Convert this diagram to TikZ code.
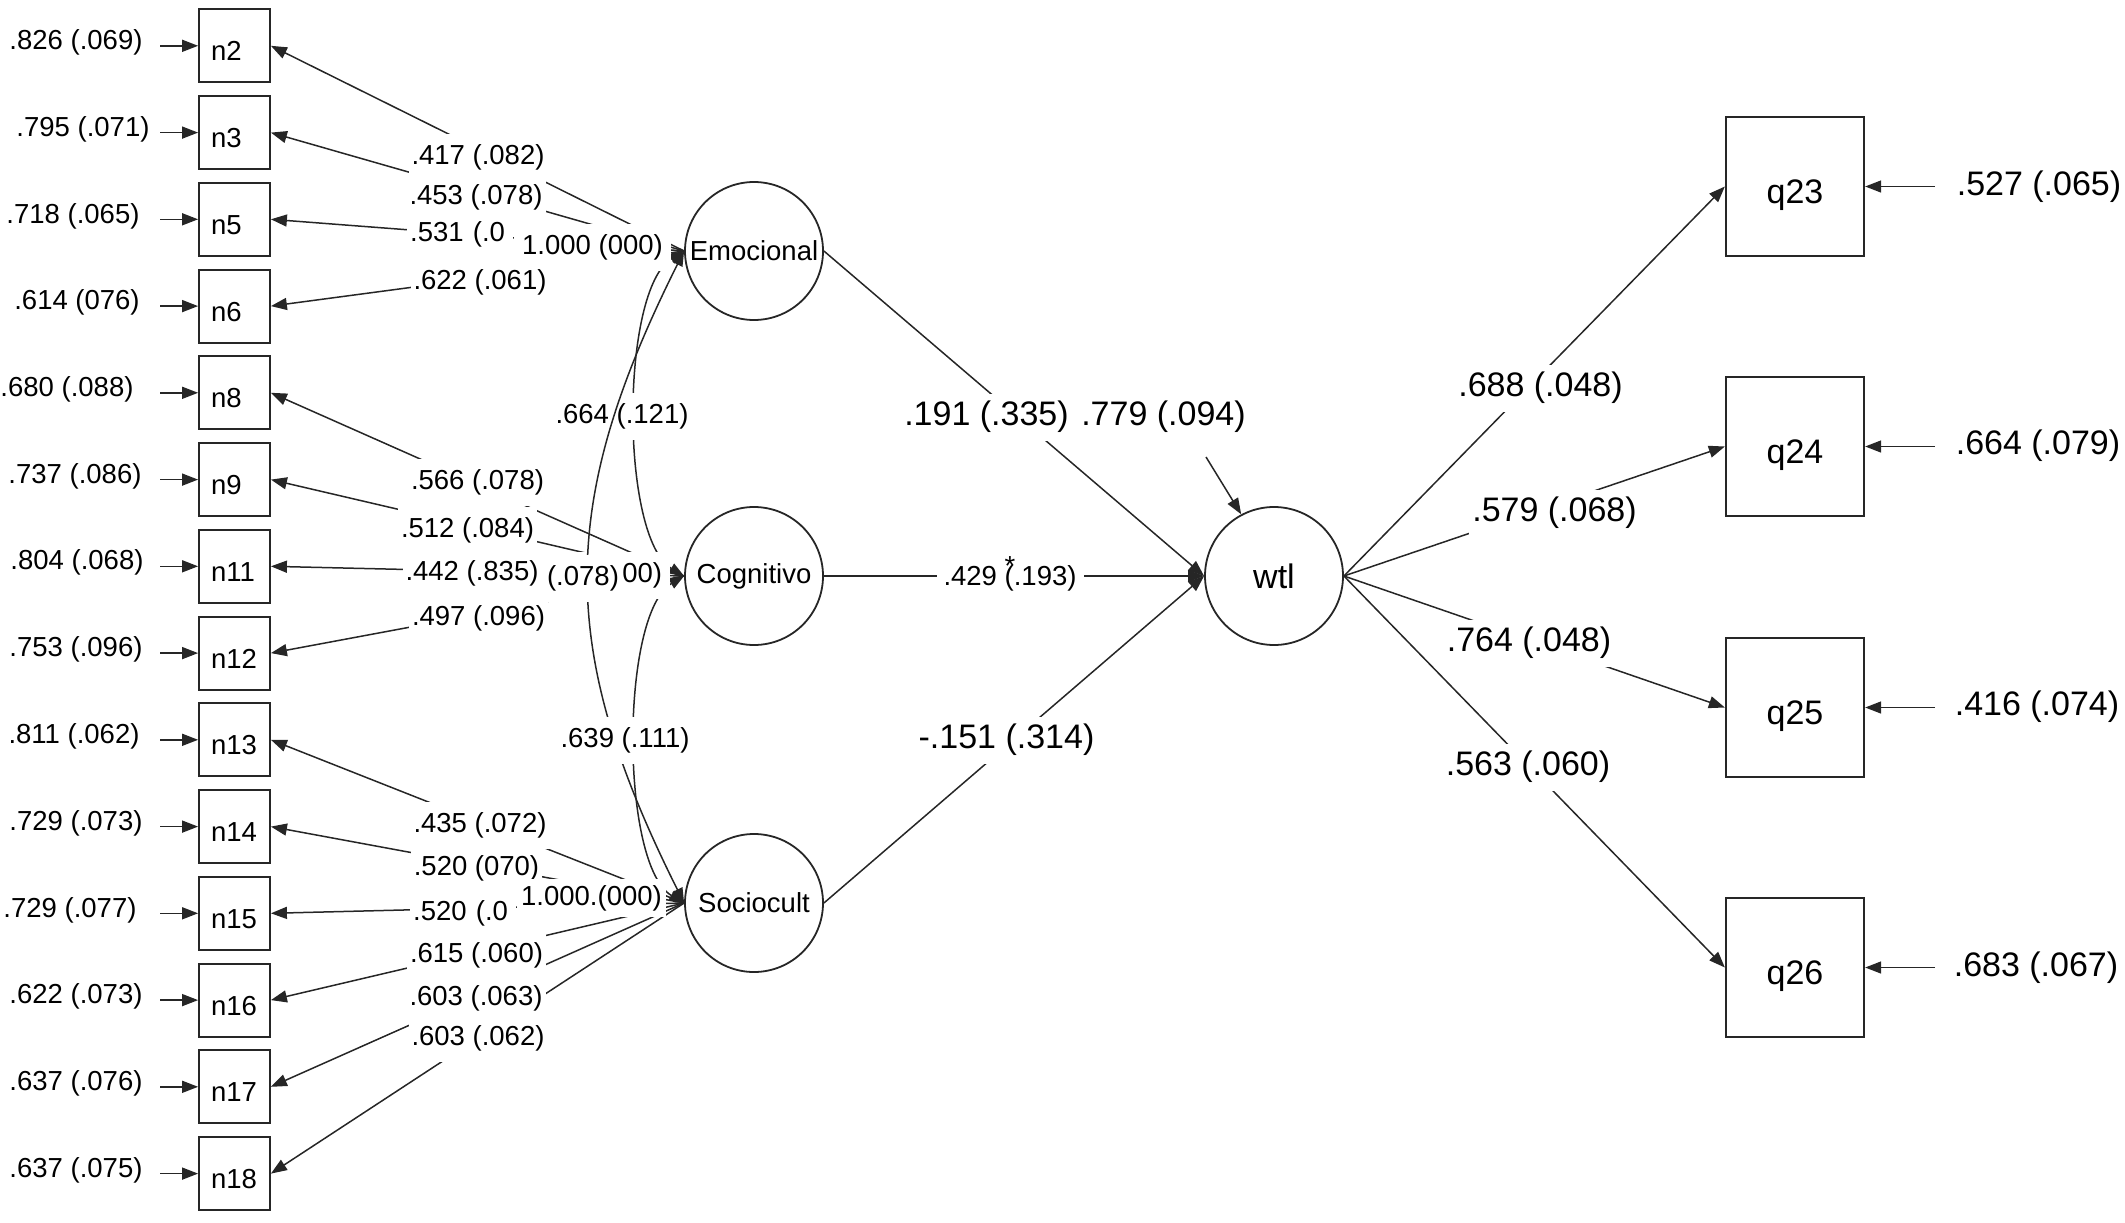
\documentclass[tikz,border=0pt]{standalone}
\usepackage{fontspec}
\setmainfont{Liberation Sans}
\usetikzlibrary{arrows.meta,calc}
\newcommand\semfa{\fontsize{27.5pt}{33pt}\selectfont}
\newcommand\semfb{\fontsize{34pt}{40pt}\selectfont}
\begin{document}
\begin{tikzpicture}[x=1pt,y=-1pt,
  font=\semfa,
  ln/.style={line width=1.5pt, draw=black!85},
  arr/.style={ln,-{Triangle[length=16pt,width=12pt]}},
  cov/.style={ln,{Triangle[length=15pt,width=11pt]}-{Triangle[length=15pt,width=11pt]}},
  ind/.style={draw=black!85,line width=1.8pt,rectangle,minimum width=71pt,minimum height=73pt,text width=47pt,align=left,inner xsep=12pt,inner ysep=0pt,text height=30pt,text depth=0pt},
  obs/.style={draw=black!85,line width=1.8pt,rectangle,minimum width=138.5pt,minimum height=139pt,font=\semfb,inner sep=0pt,text height=40pt,text depth=7pt},
  lat/.style={draw=black!85,line width=1.8pt,circle,minimum size=138pt,inner sep=0pt},
  lbl/.style={fill=white,inner xsep=3pt,inner ysep=0pt,minimum height=47pt},
  big/.style={font=\semfb},
  err/.style={inner sep=0pt}
]
\useasboundingbox (0,0) rectangle (2125,1223);

% indicator boxes
\node[ind] (n2)  at (234.5,45.8)   {n2};
\node[ind] (n3)  at (234.5,132.6)  {n3};
\node[ind] (n5)  at (234.5,219.3)  {n5};
\node[ind] (n6)  at (234.5,306.1)  {n6};
\node[ind] (n8)  at (234.5,392.8)  {n8};
\node[ind] (n9)  at (234.5,479.6)  {n9};
\node[ind] (n11) at (234.5,566.3)  {n11};
\node[ind] (n12) at (234.5,653.1)  {n12};
\node[ind] (n13) at (234.5,739.8)  {n13};
\node[ind] (n14) at (234.5,826.6)  {n14};
\node[ind] (n15) at (234.5,913.3)  {n15};
\node[ind] (n16) at (234.5,1000.1) {n16};
\node[ind] (n17) at (234.5,1086.8) {n17};
\node[ind] (n18) at (234.5,1173.6) {n18};

% error labels left
\node[err] (e2)  at (76,42)   {.826 (.069)};
\node[err] (e3)  at (83,129)  {.795 (.071)};
\node[err] (e5)  at (73,216)  {.718 (.065)};
\node[err] (e6)  at (77,302)  {.614 (076)};
\node[err] (e8)  at (67,389)  {.680 (.088)};
\node[err] (e9)  at (75,476)  {.737 (.086)};
\node[err] (e11) at (77,562)  {.804 (.068)};
\node[err] (e12) at (76,649)  {.753 (.096)};
\node[err] (e13) at (74,736)  {.811 (.062)};
\node[err] (e14) at (76,823)  {.729 (.073)};
\node[err] (e15) at (70,910)  {.729 (.077)};
\node[err] (e16) at (76,996)  {.622 (.073)};
\node[err] (e17) at (76,1083) {.637 (.076)};
\node[err] (e18) at (76,1170) {.637 (.075)};

% latent variables
\node[lat] (Emo) at (754,251) {Emocional};
\node[lat] (Cog) at (754,576) {Cognitivo};
\node[lat] (Soc) at (754,903) {Sociocult};
\node[lat,font=\semfb] (wtl) at (1274,576) {wtl};

% outcome boxes
\node[obs] (q23) at (1795,186.5) {q23};
\node[obs] (q24) at (1795,446.5) {q24};
\node[obs] (q25) at (1795,707.5) {q25};
\node[obs] (q26) at (1795,967.5) {q26};

\coordinate (wres) at (1206,457);

% error arrows
\foreach \b in {n2,n3,n5,n6,n8,n9,n11,n12,n13,n14,n15,n16,n17,n18}
  \draw[arr] ([xshift=-38pt]\b.west) -- (\b.west);
\foreach \q in {q23,q24,q25,q26}
  \draw[arr] ([xshift=70pt]\q.east) -- (\q.east);

% loadings
\foreach \b in {n2,n3,n5,n6} \draw[arr] (Emo.west) -- (\b.east);
\foreach \b in {n8,n9,n11,n12} \draw[arr] (Cog.west) -- (\b.east);
\foreach \b in {n13,n14,n15,n16,n17,n18} \draw[arr] (Soc.west) -- (\b.east);

% structural paths
\draw[arr] (Emo.east) -- (wtl.west);
\draw[arr] (Cog.east) -- (wtl.west);
\draw[arr] (Soc.east) -- (wtl.west);
\draw[arr] (wres) -- (wtl.118);
\foreach \q in {q23,q24,q25,q26} \draw[arr] (wtl.east) -- (\q.west);

% covariances
\draw[cov] (Emo.west) .. controls (620,290) and (620,538) .. (Cog.west);
\draw[cov] (Cog.west) .. controls (620,614) and (620,865) .. (Soc.west);

% Emocional loading labels
\node[lbl] (l2) at (478,157) {.417 (.082)};
\node[lbl] (l3) at (476,197) {.453 (.078)};
\node[lbl,anchor=west,text width=100pt,align=left] (l5) at (407,234) {.531 (.0};
\node[lbl,inner xsep=8pt] (v1) at (592.5,247) {1.000 (000)};
\node[lbl] (l6) at (480,282) {.622 (.061)};

% Cognitivo loading labels
\node[lbl,text width=131pt,align=right,inner xsep=8pt] (v2) at (596.5,575) {00)};
\node[lbl] (l8) at (477.5,482) {.566 (.078)};
\node[lbl] (l9) at (467.5,530) {.512 (.084)};
\node[lbl] (l11) at (472,573) {.442 (.835)};
\node[lbl] (l12) at (478.5,618) {.497 (.096)};

% Sociocult loading labels
\node[lbl] (l13) at (480,825) {.435 (.072)};
\node[lbl] (l14) at (476.5,868) {.520 (070)};
\node[lbl,anchor=west,text width=100pt,align=left] (l15) at (410,913) {.520 (.0};
\node[lbl] (l16) at (476.5,955) {.615 (.060)};
\node[lbl] (l17) at (476,998) {.603 (.063)};
\node[lbl] (l18) at (478,1038) {.603 (.062)};
\node[lbl,inner xsep=4pt,minimum height=38pt] (v3) at (591.5,898) {1.000.(000)};

% covariance labels and long covariance
\node[lbl] (cEC) at (622,416) {.664 (.121)};
\draw[cov] (Emo.west) .. controls (557,505) and (557,649) .. (Soc.west);
\node[lbl,inner xsep=2pt] (cES) at (583,578) {(.078)};
\node[lbl] (cCS) at (625,740) {.639 (.111)};

% structural labels
\node[lbl,big] (pE) at (986.5,417) {.191 (.335)};
\node[lbl,big] (rw) at (1163.5,417) {.779 (.094)};
\node[lbl,minimum width=147pt] (pC) at (1010,578) {.429 \rlap{\smash{\raisebox{10pt}{*}}}(.193)};
\node[lbl,big] (pS) at (1006.5,740) {-.151 (.314)};
\node[lbl,big] (g23) at (1540.5,388) {.688 (.048)};
\node[lbl,big] (g24) at (1554.5,513) {.579 (.068)};
\node[lbl,big] (g25) at (1529,643) {.764 (.048)};
\node[lbl,big] (g26) at (1528,767) {.563 (.060)};

% error labels right
\node[err,big] (r23) at (2039,187) {.527 (.065)};
\node[err,big] (r24) at (2038,446) {.664 (.079)};
\node[err,big] (r25) at (2037,707) {.416 (.074)};
\node[err,big] (r26) at (2036,968) {.683 (.067)};
\end{tikzpicture}
\end{document}
